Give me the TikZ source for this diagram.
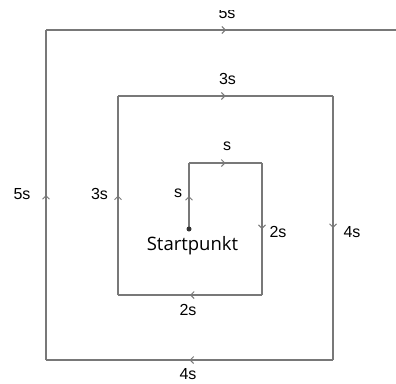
\documentclass[tikz,border=0pt]{standalone}
\usepackage{fontspec}
\setmainfont{Liberation Sans}
\newfontfamily\startfont{Open Sans}
\usetikzlibrary{arrows.meta,decorations.markings}
\definecolor{pathgray}{HTML}{787878}
\tikzset{
  seg/.style={draw=pathgray, line width=1.3pt,
    postaction={decorate},
    decoration={markings, mark=at position 0.5 with
      {\arrow{Straight Barb[length=3.5pt,width=7pt,line width=1pt]}}}},
  lbl/.style={font=\fontsize{16}{16}\selectfont, inner sep=0pt, text=black},
}
\begin{document}
\begin{tikzpicture}[x=1pt,y=-1pt]
  \useasboundingbox (0,0) rectangle (396,383);
  % corners of the spiral path, from the start outwards
  \coordinate (p0) at (189,229);
  \coordinate (p1) at (189,163);
  \coordinate (p2) at (262,163);
  \coordinate (p3) at (262,295);
  \coordinate (p4) at (118,295);
  \coordinate (p5) at (118,96);
  \coordinate (p6) at (333,96);
  \coordinate (p7) at (333,360);
  \coordinate (p8) at (46,360);
  \coordinate (p9) at (46,30);
  \coordinate (p10) at (406,30);
  \draw[seg] (p0) -- (p1);
  \draw[seg] (p1) -- (p2);
  \draw[seg] (p2) -- (p3);
  \draw[seg] (p3) -- (p4);
  \draw[seg] (p4) -- (p5);
  \draw[seg] (p5) -- (p6);
  \draw[seg] (p6) -- (p7);
  \draw[seg] (p7) -- (p8);
  \draw[seg] (p8) -- (p9);
  \draw[seg] (p9) -- (p10);
  \fill[black!80] (p0) circle (2.5);
  % side lengths
  \node[lbl] (l1) at (178,193) {s};
  \node[lbl] (l2) at (227,146) {s};
  \node[lbl] (l3) at (278,232) {2s};
  \node[lbl] (l4) at (188,310) {2s};
  \node[lbl] (l5) at (99.5,194) {3s};
  \node[lbl] (l6) at (227.5,79) {3s};
  \node[lbl] (l7) at (352,232) {4s};
  \node[lbl] (l8) at (188,374.5) {4s};
  \node[lbl] (l9) at (22,194) {5s};
  \node[lbl] (l10) at (227,13) {5s};
  \fill[white] (0,0) rectangle (396,10);
  \node[inner sep=0pt, text=black, font=\startfont\fontsize{18.5}{18.5}\selectfont] (start) at (192.5,245.5) {Startpunkt};
\end{tikzpicture}
\end{document}
